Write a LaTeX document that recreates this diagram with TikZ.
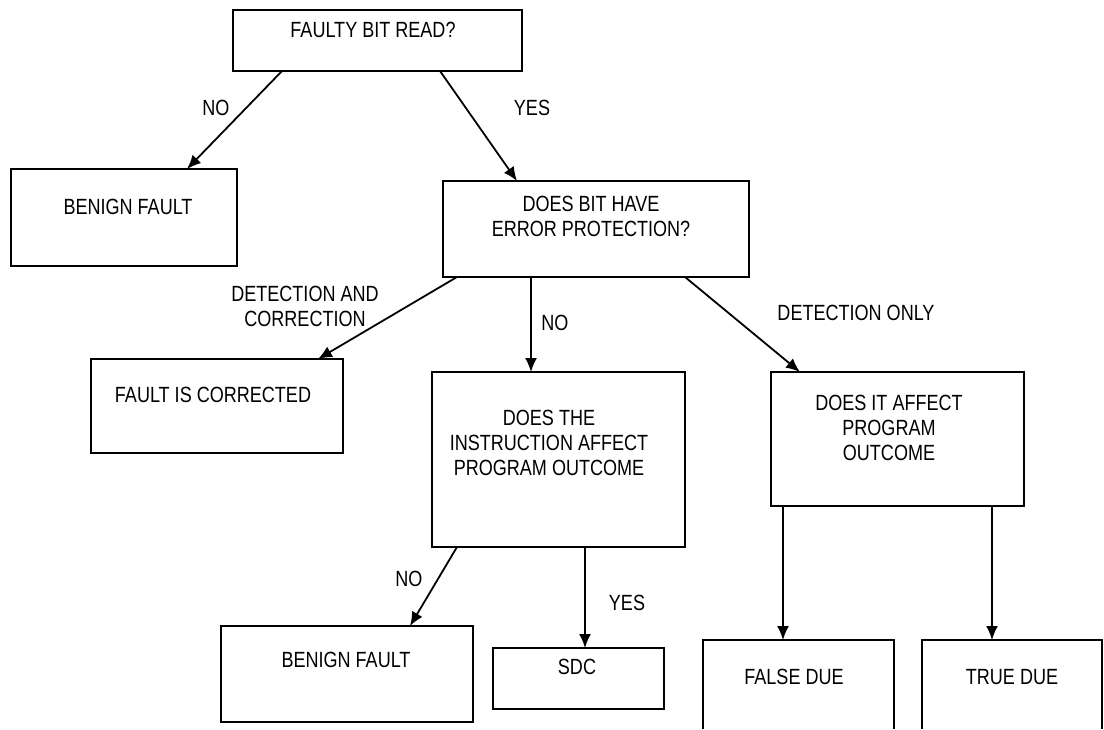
\documentclass[tikz,border=0pt]{standalone}
\usepackage{fontspec}
\setmainfont{Liberation Sans}[FakeStretch=0.82]
\usetikzlibrary{arrows.meta}

\tikzset{>={Latex[length=14pt,width=12pt]}}
\tikzset{
  box/.style={draw, line width=2pt, inner sep=0pt, outer sep=0pt},
  openbox/.style={inner sep=0pt, outer sep=0pt},
  txt/.style={align=center, inner sep=0pt, font=\fontsize{22}{25}\selectfont},
  flow/.style={->, line width=1.8pt}
}

\begin{document}
\begin{tikzpicture}[x=1pt, y=-1pt]

  \useasboundingbox (0,0) rectangle (1104,729);

  % boxes
  \node[box, minimum width=289pt, minimum height=61pt]  (read)    at (377.5,40.5) {};
  \node[box, minimum width=226pt, minimum height=97pt]  (benign1) at (124,217.5) {};
  \node[box, minimum width=306pt, minimum height=96pt]  (prot)    at (596,229) {};
  \node[box, minimum width=252pt, minimum height=94pt]  (corr)    at (217,406) {};
  \node[box, minimum width=253pt, minimum height=175pt] (instr)   at (558.5,459.5) {};
  \node[box, minimum width=253pt, minimum height=134pt] (affect)  at (897.5,439) {};
  \node[box, minimum width=252pt, minimum height=96pt]  (benign2) at (347,674) {};
  \node[box, minimum width=171pt, minimum height=61pt]  (sdc)     at (578.5,678.5) {};
  \node[openbox, minimum width=191pt, minimum height=89pt] (fdue) at (798.5,684.5) {};
  \node[openbox, minimum width=180pt, minimum height=89pt] (tdue) at (1012,684.5) {};
  \draw[line width=2pt] (fdue.south west) -- (fdue.north west) -- (fdue.north east) -- (fdue.south east);
  \draw[line width=2pt] (tdue.south west) -- (tdue.north west) -- (tdue.north east) -- (tdue.south east);

  % box texts
  \node[txt] (read-t)    at (373,30)    {FAULTY BIT READ?};
  \node[txt] (benign1-t) at (128,207)   {BENIGN FAULT};
  \node[txt] (prot-t)    at (591,216)   {DOES BIT HAVE\\ERROR PROTECTION?};
  \node[txt] (corr-t)    at (213,395)   {FAULT IS CORRECTED};
  \node[txt] (instr-t)   at (549,442.5) {DOES THE\\INSTRUCTION AFFECT\\PROGRAM OUTCOME};
  \node[txt] (affect-t)  at (889,427.5) {DOES IT AFFECT\\PROGRAM\\OUTCOME};
  \node[txt] (benign2-t) at (346,660)   {BENIGN FAULT};
  \node[txt] (sdc-t)     at (577,667)   {SDC};
  \node[txt] (fdue-t)    at (794,677)   {FALSE DUE};
  \node[txt] (tdue-t)    at (1012,677)  {TRUE DUE};

  % arrows
  \draw[flow] ([xshift=49pt]read.south west)   -- ([xshift=176pt]benign1.north west);
  \draw[flow] ([xshift=207pt]read.south west)  -- ([xshift=74pt]prot.north west);
  \draw[flow] ([xshift=14pt]prot.south west)   -- ([xshift=-25pt]corr.north east);
  \draw[flow] ([xshift=88pt]prot.south west)   -- ([xshift=88pt]prot.south west |- instr.north);
  \draw[flow] ([xshift=242pt]prot.south west)  -- ([xshift=29pt]affect.north west);
  \draw[flow] ([xshift=25pt]instr.south west)  -- ([xshift=189pt]benign2.north west);
  \draw[flow] ([xshift=153pt]instr.south west) -- ([xshift=153pt]instr.south west |- sdc.north);
  \draw[flow] ([xshift=12pt]affect.south west) -- ([xshift=12pt]affect.south west |- fdue.north);
  \draw[flow] ([xshift=221pt]affect.south west) -- ([xshift=221pt]affect.south west |- tdue.north);

  % arrow labels
  \node[txt] (no1)  at (216,108) {NO};
  \node[txt] (yes1) at (532,108) {YES};
  \node[txt] (dc)   at (305,306) {DETECTION AND\\CORRECTION};
  \node[txt] (no2)  at (555,323) {NO};
  \node[txt] (donly) at (856,313) {DETECTION ONLY};
  \node[txt] (no3)  at (409,579) {NO};
  \node[txt] (yes2) at (627,603) {YES};

\end{tikzpicture}
\end{document}
